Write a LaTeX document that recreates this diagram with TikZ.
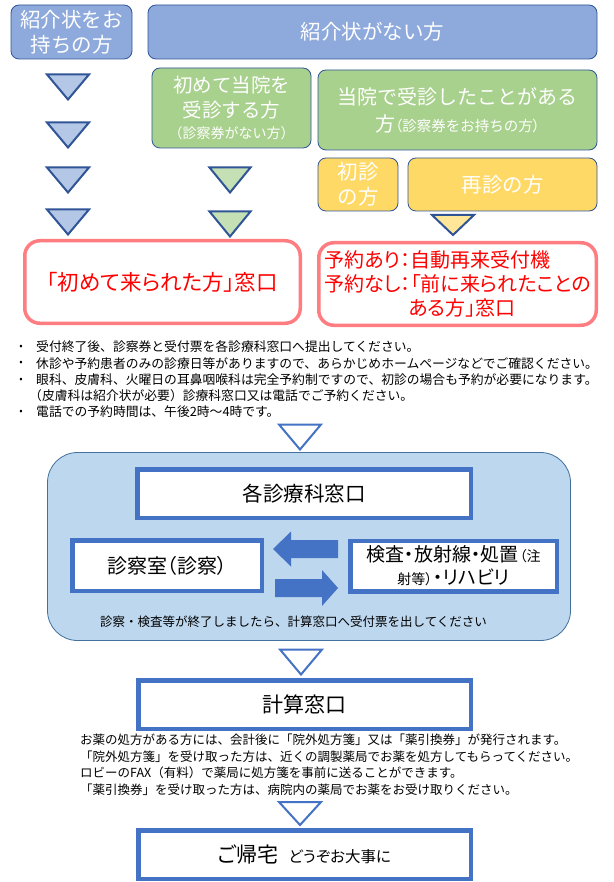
\documentclass[tikz,border=0pt]{standalone}
\usepackage{fontspec}
\newfontfamily\jp{Noto Sans CJK JP}
\newfontfamily\jpp[RawFeature=+palt]{Noto Sans CJK JP}
\definecolor{tb}{HTML}{8EA9DB}
\definecolor{topbd}{HTML}{2F5597}
\definecolor{gr}{HTML}{A9D18E}
\definecolor{yl}{HTML}{FFD966}
\definecolor{tblue}{HTML}{B4C7E7}
\definecolor{tgreen}{HTML}{C5E0B4}
\definecolor{tyel}{HTML}{FFE699}
\definecolor{pinkbd}{HTML}{FF7C80}
\definecolor{redtx}{HTML}{FF0000}
\definecolor{mblue}{HTML}{4472C4}
\definecolor{bgfill}{HTML}{BDD7EE}
\definecolor{bgbd}{HTML}{41719C}
\begin{document}
\begin{tikzpicture}[x=1pt,y=-1pt,
  topbox/.style={rounded corners=8pt, draw=topbd, line width=0.8pt, text=white, align=center, inner sep=0pt, font=\jp\fontsize{20.5}{25}\selectfont},
  redbox/.style={draw=pinkbd, line width=3.5pt, rounded corners=15pt, fill=white, text=redtx, inner sep=0pt, font=\jpp\fontsize{20}{24}\selectfont},
  bluebox/.style={draw=mblue, line width=4.5pt, fill=white, inner sep=0pt, align=center, font=\jpp\fontsize{20.5}{24}\selectfont},
  note/.style={anchor=west, inner sep=0pt, font=\jp\fontsize{12.8}{15}\selectfont},
  note2/.style={anchor=west, inner sep=0pt, font=\jp\fontsize{12.5}{15}\selectfont},
  bul/.style={inner sep=0pt, font=\jp\fontsize{10}{10}\selectfont},
  trib/.style={fill=tblue, draw=topbd, line width=2pt},
  trig/.style={fill=tgreen, draw=topbd, line width=2pt},
  triy/.style={fill=tyel, draw=topbd, line width=2pt},
  triw/.style={fill=white, draw=mblue, line width=2pt},
  blockarrow/.style={fill=mblue, draw=none},
  pics/dtri/.style n args={2}{code={\path[pic actions] (-#1,-#2) -- (#1,-#2) -- (0,#2) -- cycle;}}
]
\useasboundingbox (0,0) rectangle (613,882);

% top row
\node[topbox, fill=tb, minimum width=121pt, minimum height=54pt] (a) at (71.5,32) {紹介状をお\\持ちの方};
\node[topbox, fill=tb, minimum width=449pt, minimum height=54pt] (b) at (372.5,32) {紹介状がない方};

% green boxes
\node[topbox, fill=gr, minimum width=159pt, minimum height=80pt, font=\jp\fontsize{19.5}{25}\selectfont] (g1) at (231.5,108) {初めて当院を\\受診する方\\[-4pt]{\fontsize{14}{16}\selectfont （診察券がない方）}};
\node[topbox, fill=gr, minimum width=279pt, minimum height=80pt, font=\jp\fontsize{20}{27}\selectfont] (g2) at (457.5,110) {当院で受診したことがある\\方{\jpp\fontsize{14.5}{16}\selectfont （\jp 診察券をお持ちの方\jpp ）}};

% yellow boxes
\node[topbox, fill=yl, minimum width=80pt, minimum height=53pt] (y1) at (358,184.5) {初診\\の方};
\node[topbox, fill=yl, minimum width=189pt, minimum height=53pt] (y2) at (502.5,184.5) {再診の方};

% triangles
\pic[trib] at (68,87) {dtri={21}{12.5}};
\pic[trib] at (68,135) {dtri={21}{12.5}};
\pic[trib] at (68,180) {dtri={21}{12.5}};
\pic[trib] at (68,222) {dtri={21}{12.5}};
\pic[trig] at (230,180) {dtri={20.5}{12.5}};
\pic[trig] at (230,224) {dtri={20.5}{12.5}};
\pic[triy] at (453,225) {dtri={21}{10}};

% red boxes
\node[redbox, minimum width=275.5pt, minimum height=82.5pt, font=\jpp\fontsize{21.5}{24}\selectfont] (r1) at (162.5,282) {「初めて来られた方」窓口};
\node[redbox, minimum width=277.5pt, minimum height=82.5pt, align=left] (r2) at (457.5,284) {予約あり：自動再来受付機\\予約なし：「前に来られたことの\\\hspace*{84pt}ある方」窓口};

% bullets
\node[bul] (d1) at (21,347) {•};
\node[note] (n1) at (36,347) {受付終了後、診察券と受付票を各診療科窓口へ提出してください。};
\node[bul] (d2) at (21,363.5) {•};
\node[note] (n2) at (36,363.5) {休診や予約患者のみの診療日等がありますので、あらかじめホームページなどでご確認ください。};
\node[bul] (d3) at (21,380) {•};
\node[note] (n3) at (36,380) {眼科、皮膚科、火曜日の耳鼻咽喉科は完全予約制ですので、初診の場合も予約が必要になります。};
\node[note] (n4) at (29,396) {（皮膚科は紹介状が必要）診療科窓口又は電話でご予約ください。};
\node[bul] (d5) at (21,412) {•};
\node[note] (n5) at (36,412) {電話での予約時間は、午後2時～4時です。};

% white triangle
\pic[triw] at (300,437) {dtri={21}{12.5}};

% panel
\node[draw=bgbd, line width=0.8pt, fill=bgfill, rounded corners=30pt, minimum width=523pt, minimum height=188pt, inner sep=0pt] (panel) at (309,546.5) {};
\node[bluebox, minimum width=333.5pt, minimum height=48.5pt] (dept) at (304,493.5) {各診療科窓口};
\node[bluebox, minimum width=189.5pt, minimum height=50.5pt, font=\jpp\fontsize{20}{24}\selectfont] (exam) at (167,565.5) {診察室（診察）};
\node[bluebox, minimum width=206.5pt, minimum height=50.5pt, font=\jpp\fontsize{19}{22}\selectfont] (test) at (453.5,566) {検査・放射線・処置\hspace{1pt}{\fontsize{14}{16}\selectfont （注}\\[1pt]{\fontsize{14}{16}\selectfont 射等）}\hspace{1pt}・リハビリ};
\path[blockarrow] (338,540) -- (291,540) -- (291,531.5) -- (273,549) -- (291,566.5) -- (291,558) -- (338,558) -- cycle;
\path[blockarrow] (275,579) -- (322,579) -- (322,570) -- (338,588) -- (322,606) -- (322,597) -- (275,597) -- cycle;
\node[note, font=\jp\fontsize{12.5}{15}\selectfont] (pn) at (100,622) {診察・検査等が終了しましたら、計算窓口へ受付票を出してください};

\pic[triw] at (301,662) {dtri={21}{12.5}};
\node[bluebox, minimum width=332.5pt, minimum height=48.5pt, font=\jpp\fontsize{21}{24}\selectfont] (calc) at (304.5,704.5) {計算窓口};

\node[note2] (m1) at (80,740) {お薬の処方がある方には、会計後に「院外処方箋」又は「薬引換券」が発行されます。};
\node[note2] (m2) at (80,756.5) {「院外処方箋」を受け取った方は、近くの調製薬局でお薬を処方してもらってください。};
\node[note2] (m3) at (80,773) {ロビーのFAX（有料）で薬局に処方箋を事前に送ることができます。};
\node[note2] (m4) at (80,789.5) {「薬引換券」を受け取った方は、病院内の薬局でお薬をお受け取りください。};

\pic[triw] at (300,813.5) {dtri={21}{11.5}};
\node[bluebox, minimum width=332.5pt, minimum height=48.5pt, font=\jpp\fontsize{21}{24}\selectfont] (home) at (304.5,854.5) {ご帰宅\hspace{10pt}{\fontsize{15.5}{18}\selectfont どうぞお大事に}};
\end{tikzpicture}
\end{document}
